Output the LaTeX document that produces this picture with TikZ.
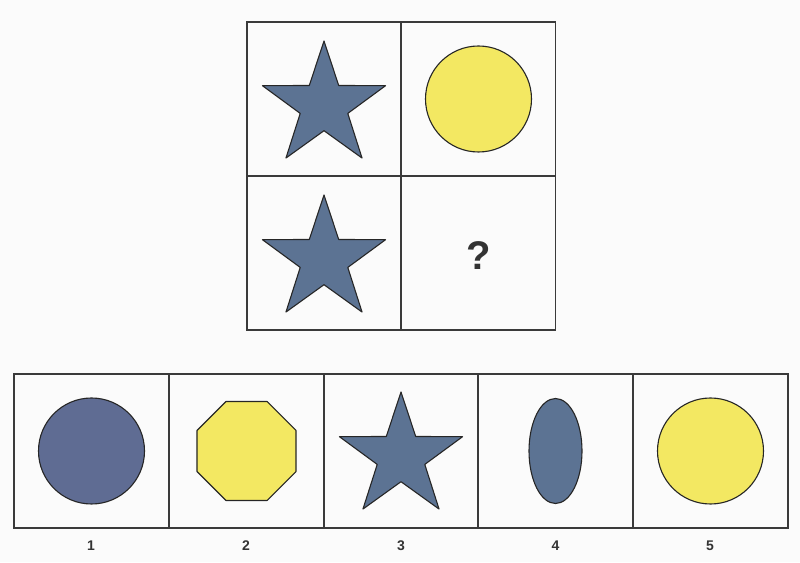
\documentclass[tikz,border=0pt]{standalone}
\usepackage{fontspec}
\setmainfont{Liberation Sans}
\usetikzlibrary{shapes.geometric}
\definecolor{slate}{HTML}{5C7393}
\definecolor{slatep}{HTML}{5F6C93}
\definecolor{sun}{HTML}{F3E862}
\definecolor{frame}{HTML}{3A3A3A}
\definecolor{ink}{HTML}{262626}
\definecolor{txt}{HTML}{333333}
\begin{document}
\begin{tikzpicture}[x=1pt,y=1pt,
  cell/.style={draw=frame, line width=1.4pt, inner sep=0pt, minimum width=154pt, minimum height=154pt},
  bcell/.style={cell, minimum width=154.8pt},
  outline/.style={draw=ink, line width=1.1pt, line join=round},
  roundshape/.style={outline, circle, inner sep=0pt, minimum size=106pt},
  lbl/.style={font=\fontsize{14}{16}\selectfont\bfseries, text=txt},
  pics/fivestar/.style={code={
    \draw[outline, fill=slate] (90:64.7) \foreach \k in {0,...,4}{ -- ({126+72*\k}:25) -- ({162+72*\k}:64.7) } -- cycle;
  }}]
\useasboundingbox (0,0) rectangle (800,562);
\fill[white!98.5!black] (0,0) rectangle (800,562);
% top grid
\node[cell] (t11) at (324,463) {};
\node[cell] (t12) at (478.5,463) {};
\node[cell] (t21) at (324,309) {};
\node[cell] (t22) at (478.5,309) {};
\pic (s1) at ([yshift=-6.7pt]t11.center) {fivestar};
\node[roundshape, fill=sun] (c0) at (t12.center) {};
\pic (s2) at ([yshift=-6.7pt]t21.center) {fivestar};
\node[font=\fontsize{40}{44}\selectfont\bfseries, text=txt] (q) at ([yshift=-3pt]t22.center) {?};
% answer row
\node[bcell] (b1) at (91.5,111) {};
\node[bcell] (b2) at (246.5,111) {};
\node[bcell] (b3) at (401,111) {};
\node[bcell] (b4) at (555.5,111) {};
\node[bcell] (b5) at (710.5,111) {};
\node[roundshape, fill=slatep] (a1) at (b1.center) {};
\draw[outline, fill=sun] ([shift={(22.5:53.6)}]b2.center) \foreach \k in {1,...,7}{ -- ([shift={({22.5+45*\k}:53.6)}]b2.center) } -- cycle;
\pic (s3) at ([yshift=-5.7pt]b3.center) {fivestar};
\node[outline, ellipse, fill=slate, inner sep=0pt, minimum width=53pt, minimum height=105pt] (a4) at (b4.center) {};
\node[roundshape, fill=sun] (a5) at (b5.center) {};
% labels
\node[lbl] (l1) at (91,16) {1};
\node[lbl] (l2) at (246,16) {2};
\node[lbl] (l3) at (401,16) {3};
\node[lbl] (l4) at (555.5,16) {4};
\node[lbl] (l5) at (710,16) {5};
\end{tikzpicture}
\end{document}
